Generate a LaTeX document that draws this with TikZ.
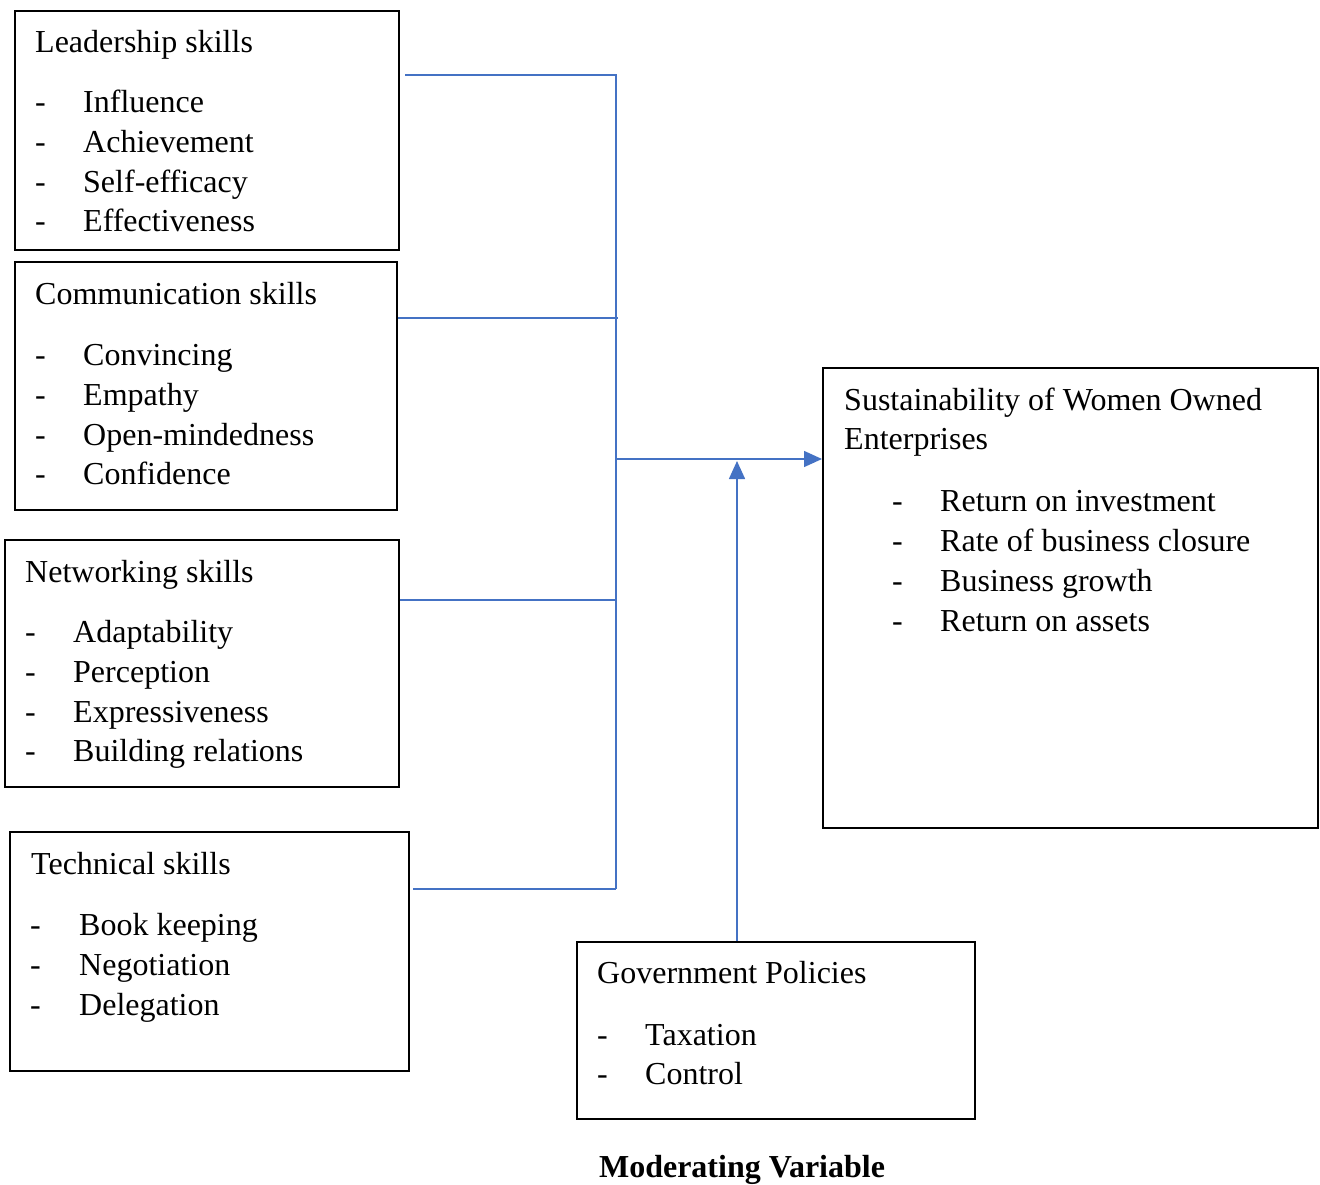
\documentclass[tikz,border=0pt]{standalone}
\usepackage{fontspec}
\setmainfont{Liberation Serif}
\usetikzlibrary{arrows.meta}
\definecolor{conn}{HTML}{4472C4}
\begin{document}
\begin{tikzpicture}[x=1pt,y=-1pt,
  box/.style={draw=black,line width=2pt,rectangle,inner sep=0pt},
  txt/.style={anchor=base west,inner sep=0pt,yshift=-3pt,font=\fontsize{32}{40}\selectfont},
  link/.style={draw=conn,line width=1.5pt},
  arr/.style={link,-{Triangle[length=18pt,width=16pt]}}]
\useasboundingbox (0,0) rectangle (1320,1185);
% boxes
\node[box,minimum width=384pt,minimum height=239pt] (lead) at (207,130.5) {};
\node[box,minimum width=382pt,minimum height=248pt] (comm) at (206,386) {};
\node[box,minimum width=394pt,minimum height=247pt] (netw) at (202,663.5) {};
\node[box,minimum width=399pt,minimum height=239pt] (tech) at (209.5,951.5) {};
\node[box,minimum width=495pt,minimum height=460pt] (sust) at (1070.5,598) {};
\node[box,minimum width=398pt,minimum height=177pt] (gov) at (776,1030.5) {};
% leadership
\node[txt] (l0) at (35,50) {Leadership skills};
\node[txt] (l1d) at (35,110) {-}; \node[txt] (l1) at (83,110) {Influence};
\node[txt] (l2d) at (35,150) {-}; \node[txt] (l2) at (83,150) {Achievement};
\node[txt] (l3d) at (35,190) {-}; \node[txt] (l3) at (83,190) {Self-efficacy};
\node[txt] (l4d) at (35,229) {-}; \node[txt] (l4) at (83,229) {Effectiveness};
% communication
\node[txt] (c0) at (35,301) {Communication skills};
\node[txt] (c1d) at (35,362) {-}; \node[txt] (c1) at (83,362) {Convincing};
\node[txt] (c2d) at (35,402) {-}; \node[txt] (c2) at (83,402) {Empathy};
\node[txt] (c3d) at (35,442) {-}; \node[txt] (c3) at (83,442) {Open-mindedness};
\node[txt] (c4d) at (35,481) {-}; \node[txt] (c4) at (83,481) {Confidence};
% networking
\node[txt] (n0) at (25,579) {Networking skills};
\node[txt] (n1d) at (25,639) {-}; \node[txt] (n1) at (73,639) {Adaptability};
\node[txt] (n2d) at (25,679) {-}; \node[txt] (n2) at (73,679) {Perception};
\node[txt] (n3d) at (25,719) {-}; \node[txt] (n3) at (73,719) {Expressiveness};
\node[txt] (n4d) at (25,758) {-}; \node[txt] (n4) at (73,758) {Building relations};
% technical
\node[txt] (t0) at (31,871) {Technical skills};
\node[txt] (t1d) at (30,932) {-}; \node[txt] (t1) at (79,932) {Book keeping};
\node[txt] (t2d) at (30,972) {-}; \node[txt] (t2) at (79,972) {Negotiation};
\node[txt] (t3d) at (30,1012) {-}; \node[txt] (t3) at (79,1012) {Delegation};
% sustainability
\node[txt] (s0) at (844,407) {Sustainability of Women Owned};
\node[txt] (s0b) at (844,446) {Enterprises};
\node[txt] (s1d) at (892,508) {-}; \node[txt] (s1) at (940,508) {Return on investment};
\node[txt] (s2d) at (892,548) {-}; \node[txt] (s2) at (940,548) {Rate of business closure};
\node[txt] (s3d) at (892,588) {-}; \node[txt] (s3) at (940,588) {Business growth};
\node[txt] (s4d) at (892,628) {-}; \node[txt] (s4) at (940,628) {Return on assets};
% government
\node[txt] (g0) at (597,980) {Government Policies};
\node[txt] (g1d) at (597,1042) {-}; \node[txt] (g1) at (645,1042) {Taxation};
\node[txt] (g2d) at (597,1081) {-}; \node[txt] (g2) at (645,1081) {Control};
\node[anchor=base,inner sep=0pt,font=\fontsize{32}{40}\selectfont\bfseries] (mod) at (742,1177) {Moderating Variable};
% connectors
\coordinate (j1) at (616,75);
\coordinate (j2) at (618,318);
\coordinate (j3) at (616,600);
\coordinate (j4) at (616,889);
\coordinate (jm) at (616,459);
\coordinate (am) at (737,461);
\draw[link] ([xshift=5pt]lead.east |- j1) -- (j1) -- (j4);
\draw[link] (comm.east |- j2) -- (j2);
\draw[link] (netw.east |- j3) -- (j3);
\draw[link] ([xshift=3pt]tech.east |- j4) -- (j4);
\draw[arr] (jm) -- (sust.west |- jm);
\draw[arr] (gov.north -| am) -- (am);
\end{tikzpicture}
\end{document}
